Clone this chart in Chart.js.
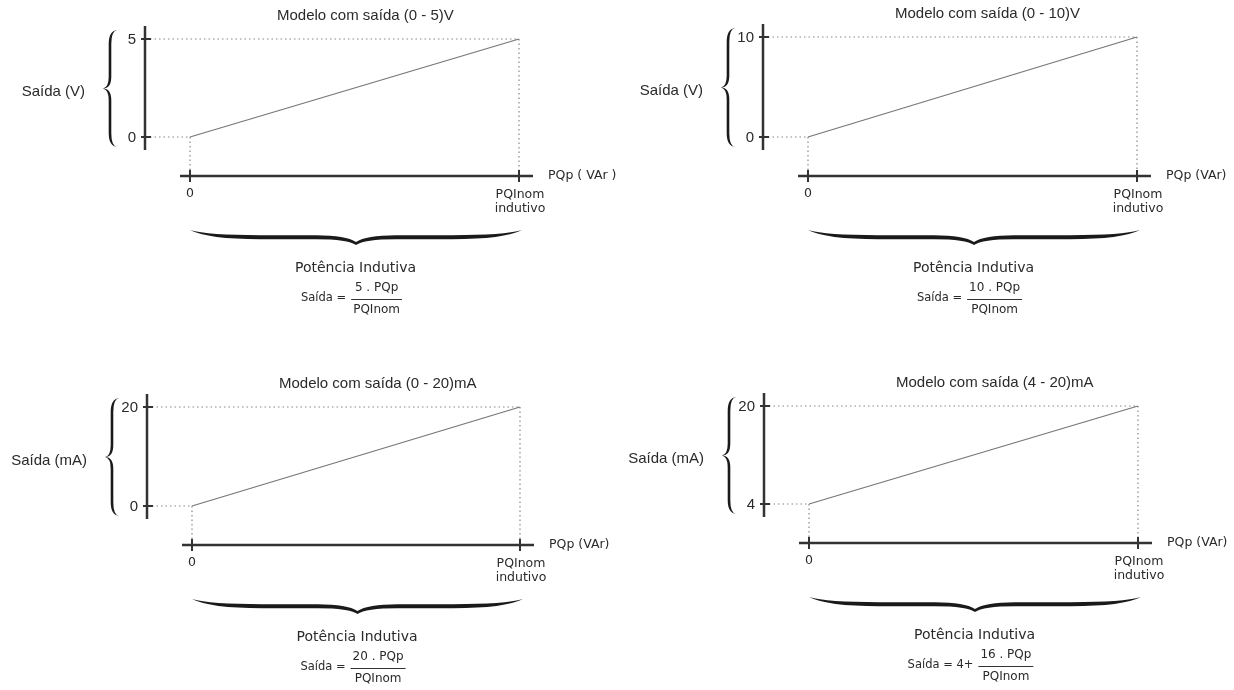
<!DOCTYPE html>
<html>
<head>
<meta charset="utf-8">
<script src="https://cdn.jsdelivr.net/npm/chart.js@4.4.0/dist/chart.umd.min.js"></script>
<style>
  body { margin: 0; background: #fff; }
  #wrap { position: relative; width: 1234px; height: 690px; }
  #wrap canvas { position: absolute; left: 0; top: 0; }
</style>
</head>
<body>
<div id="wrap">
  <canvas id="c0" width="1234" height="690"></canvas>
  <canvas id="c1" width="1234" height="690"></canvas>
  <canvas id="c2" width="1234" height="690"></canvas>
  <canvas id="c3" width="1234" height="690"></canvas>
</div>
<script>
// Dados dos quatro modelos
var titles = ['Modelo com saída (0 - 5)V', 'Modelo com saída (0 - 10)V', 'Modelo com saída (0 - 20)mA', 'Modelo com saída (4 - 20)mA'];
var yAxisLabels = ['Saída (V)', 'Saída (V)', 'Saída (mA)', 'Saída (mA)'];
var outAtZero = [0, 0, 0, 4];      // saída com PQp = 0
var outAtNom = [5, 10, 20, 20];    // saída com PQp = PQInom
var pqValues = [0, 1];             // PQp / PQInom
var xTickLabels = ['0', 'PQInom'];
var xTickSub = ['', 'indutivo'];
var xUnitLabels = ['PQp ( VAr )', 'PQp (VAr)', 'PQp (VAr)', 'PQp (VAr)'];
var braceLabel = 'Potência Indutiva';
var formulaLeft = ['Saída =', 'Saída =', 'Saída =', 'Saída = 4+'];
var formulaTop = ['5 . PQp', '10 . PQp', '20 . PQp', '16 . PQp'];
var formulaBottom = 'PQInom';

// area do grafico de cada painel na pagina: left, top, right, bottom
var areas = [[190, 39, 519, 137], [808, 37, 1137, 137], [192, 407, 520, 506], [809, 406, 1138, 504]];

var sans = '"Liberation Sans", Arial, sans-serif';
var verd = '"DejaVu Sans", Verdana, sans-serif';

function vBrace(ctx, xTip, xEnd, y0, y1) {
    var ym = (y0 + y1) / 2, xm = (xTip + xEnd) / 2;
    var w = 1.3;
    ctx.beginPath();
    ctx.moveTo(xEnd, y0);
    ctx.quadraticCurveTo(xm - w, y0 + 1, xm - w, y0 + 14);
    ctx.lineTo(xm - w, ym - 12);
    ctx.quadraticCurveTo(xm - w, ym - 1, xTip, ym);
    ctx.quadraticCurveTo(xm - w, ym + 1, xm - w, ym + 12);
    ctx.lineTo(xm - w, y1 - 14);
    ctx.quadraticCurveTo(xm - w, y1 - 1, xEnd, y1);
    ctx.quadraticCurveTo(xm + w, y1 - 1, xm + w, y1 - 14);
    ctx.lineTo(xm + w, ym + 12);
    ctx.quadraticCurveTo(xm + w, ym, xTip, ym);
    ctx.quadraticCurveTo(xm + w, ym, xm + w, ym - 12);
    ctx.lineTo(xm + w, y0 + 14);
    ctx.quadraticCurveTo(xm + w, y0 + 1, xEnd, y0);
    ctx.closePath();
    ctx.fill();
}

function hBrace(ctx, x0, x1, yEnd, yMid, yTip) {
    var xc = (x0 + x1) / 2;
    ctx.beginPath();
    ctx.moveTo(x0, yEnd);
    ctx.quadraticCurveTo(x0 + 18, yMid - 1.8, x0 + 70, yMid - 1.8);
    ctx.lineTo(xc - 40, yMid - 1.8);
    ctx.quadraticCurveTo(xc - 10, yMid - 1.8, xc, yTip - 3);
    ctx.quadraticCurveTo(xc + 10, yMid - 1.8, xc + 40, yMid - 1.8);
    ctx.lineTo(x1 - 70, yMid - 1.8);
    ctx.quadraticCurveTo(x1 - 18, yMid - 1.8, x1, yEnd);
    ctx.quadraticCurveTo(x1 - 18, yMid + 2.2, x1 - 70, yMid + 2.2);
    ctx.lineTo(xc + 40, yMid + 2.2);
    ctx.quadraticCurveTo(xc + 8, yMid + 2.2, xc, yTip);
    ctx.quadraticCurveTo(xc - 8, yMid + 2.2, xc - 40, yMid + 2.2);
    ctx.lineTo(x0 + 70, yMid + 2.2);
    ctx.quadraticCurveTo(x0 + 18, yMid + 2.2, x0, yEnd);
    ctx.closePath();
    ctx.fill();
}

// desenha eixos, linhas pontilhadas, chaves e textos a partir das escalas
var diagramPlugin = {
    id: 'diagram',
    beforeDatasetsDraw: function(chart) {
        var i = chart.options.plugins.diagram.index;
        var ctx = chart.ctx, xs = chart.scales.x, ys = chart.scales.y;
        var x0 = xs.getPixelForValue(pqValues[0]), x1 = xs.getPixelForValue(pqValues[1]);
        var yLo = ys.getPixelForValue(outAtZero[i]), yHi = ys.getPixelForValue(outAtNom[i]);
        var ax = x0 - 45, ay = yLo + 39;
        ctx.save();
        ctx.strokeStyle = '#888';
        ctx.lineWidth = 1.2;
        ctx.setLineDash([1.5, 3]);
        ctx.beginPath();
        ctx.moveTo(ax + 5, yHi); ctx.lineTo(x1, yHi);
        ctx.moveTo(ax + 5, yLo); ctx.lineTo(x0, yLo);
        ctx.moveTo(x0, yLo); ctx.lineTo(x0, ay - 5);
        ctx.moveTo(x1, yHi); ctx.lineTo(x1, ay - 5);
        ctx.stroke();
        ctx.restore();
    },
    afterDraw: function(chart) {
        var i = chart.options.plugins.diagram.index;
        var ctx = chart.ctx, xs = chart.scales.x, ys = chart.scales.y;
        var x0 = xs.getPixelForValue(pqValues[0]), x1 = xs.getPixelForValue(pqValues[1]);
        var yLo = ys.getPixelForValue(outAtZero[i]), yHi = ys.getPixelForValue(outAtNom[i]);
        var ax = x0 - 45, ay = yLo + 39, xc = (x0 + x1) / 2;
        ctx.save();
        ctx.strokeStyle = '#333';
        ctx.fillStyle = '#1a1a1a';

        // eixo y
        ctx.lineWidth = 2.5;
        ctx.beginPath();
        ctx.moveTo(ax, yHi - 13); ctx.lineTo(ax, yLo + 13);
        ctx.stroke();
        ctx.lineWidth = 2;
        ctx.beginPath();
        [yHi, yLo].forEach(function(y) { ctx.moveTo(ax - 4, y); ctx.lineTo(ax + 6, y); });
        ctx.stroke();

        // eixo x
        ctx.lineWidth = 2.5;
        ctx.beginPath();
        ctx.moveTo(x0 - 10, ay); ctx.lineTo(x1 + 14, ay);
        ctx.stroke();
        ctx.lineWidth = 2;
        ctx.beginPath();
        [x0, x1].forEach(function(x) { ctx.moveTo(x, ay - 6); ctx.lineTo(x, ay + 6); });
        ctx.stroke();

        // chaves
        vBrace(ctx, ax - 42, ax - 28, yHi - 9, yLo + 10);
        hBrace(ctx, x0, x1 + 3, ay + 54, ay + 61, ay + 69);

        ctx.fillStyle = '#2a2a2a';
        ctx.textBaseline = 'middle';

        // titulo
        ctx.font = '15px ' + sans;
        ctx.textAlign = 'left';
        ctx.fillText(titles[i], x0 + 87, yHi - 23);

        // rotulos do eixo y
        ctx.textAlign = 'right';
        ctx.fillText(String(outAtNom[i]), ax - 9, yHi + 1);
        ctx.fillText(String(outAtZero[i]), ax - 9, yLo + 1);
        ctx.fillText(yAxisLabels[i], ax - 60, (yHi + yLo) / 2 + 4);

        // rotulos do eixo x
        ctx.font = '12.5px ' + verd;
        ctx.textAlign = 'center';
        ctx.fillText(xTickLabels[0], x0, ay + 18);
        ctx.fillText(xTickLabels[1], x1 + 1, ay + 19);
        ctx.fillText(xTickSub[1], x1 + 1, ay + 33);
        ctx.textAlign = 'left';
        ctx.fillText(xUnitLabels[i], x1 + 29, ay);

        // potencia indutiva e formula
        ctx.font = '14px ' + verd;
        ctx.textAlign = 'center';
        ctx.fillText(braceLabel, xc + 1, ay + 92);

        ctx.font = '11.5px ' + verd;
        var wl = ctx.measureText(formulaLeft[i]).width;
        ctx.font = '12px ' + verd;
        var wf = Math.max(ctx.measureText(formulaTop[i]).width, ctx.measureText(formulaBottom).width) + 4;
        var start = xc - 3 - (wl + 5 + wf) / 2;
        var barY = ay + 123;
        ctx.font = '11.5px ' + verd;
        ctx.textAlign = 'left';
        ctx.fillText(formulaLeft[i], start, barY - 1);
        var fx = start + wl + 5;
        ctx.font = '12px ' + verd;
        ctx.textAlign = 'center';
        ctx.fillText(formulaTop[i], fx + wf / 2, barY - 11);
        ctx.fillText(formulaBottom, fx + wf / 2, barY + 11);
        ctx.lineWidth = 1;
        ctx.strokeStyle = '#333';
        ctx.beginPath();
        ctx.moveTo(fx, barY + 0.5); ctx.lineTo(fx + wf, barY + 0.5);
        ctx.stroke();
        ctx.restore();
    }
};

for (var i = 0; i < 4; i++) {
    var a = areas[i];
    new Chart(document.getElementById('c' + i), {
        type: 'line',
        data: {
            datasets: [{
                data: [{ x: pqValues[0], y: outAtZero[i] }, { x: pqValues[1], y: outAtNom[i] }],
                borderColor: '#777',
                borderWidth: 1.3,
                pointRadius: 0,
                fill: false,
                clip: false
            }]
        },
        options: {
            responsive: false,
            animation: false,
            layout: { padding: { left: a[0], top: a[1], right: 1234 - a[2], bottom: 690 - a[3] } },
            scales: {
                x: { type: 'linear', min: 0, max: 1, display: false },
                y: { type: 'linear', min: outAtZero[i], max: outAtNom[i], display: false }
            },
            plugins: {
                legend: { display: false },
                tooltip: { enabled: false },
                diagram: { index: i }
            }
        },
        plugins: [diagramPlugin]
    });
}
</script>
</body>
</html>
